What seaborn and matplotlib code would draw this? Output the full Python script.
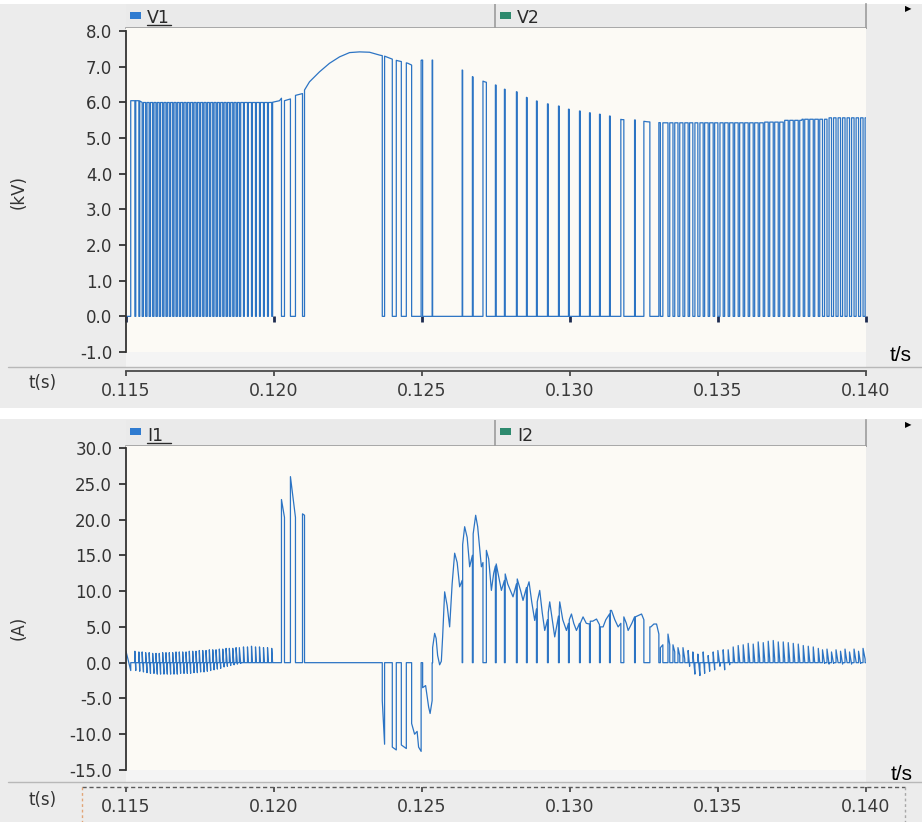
import numpy as np
import matplotlib
matplotlib.use("Agg")
import matplotlib.pyplot as plt
import seaborn as sns
from matplotlib.patches import Rectangle
from matplotlib.lines import Line2D
from matplotlib.ticker import FormatStrFormatter, MultipleLocator

sns.set_style("white")
plt.rcParams["font.family"] = ["DejaVu Sans"]
plt.rcParams["axes.unicode_minus"] = False

# ---------------------------------------------------------------------------
# Switching record, times in ms.
# Conduction intervals: V1 collapses to 0 while I1 flows.
on_mid = [
    115.08, 115.315, 115.45, 115.568, 115.687, 115.805, 115.923, 116.035, 116.146, 116.261,
    116.373, 116.485, 116.6, 116.711, 116.823, 116.938, 117.05, 117.161, 117.276, 117.388,
    117.499, 117.614, 117.726, 117.838, 117.953, 118.064, 118.176, 118.291, 118.403, 118.514,
    118.629, 118.741, 118.852, 118.984, 119.119, 119.255, 119.39, 119.525, 119.66, 119.796,
    119.938,
    120.303, 120.64, 120.997,
    123.697, 124.064, 124.386, 124.81,
    125.182, 125.858, 126.538, 126.894, 127.327, 127.646, 128.0, 128.373, 128.711, 129.066,
    129.438, 129.793, 130.148, 130.503, 130.841, 131.179, 131.54, 132.0, 132.352, 132.85,
    133.095,
    133.34, 133.509, 133.678, 133.847, 134.016, 134.185, 134.354, 134.524, 134.693, 134.862,
    135.031, 135.2, 135.369, 135.538, 135.707, 135.876, 136.045, 136.214, 136.383, 136.553,
    136.722, 136.891, 137.06, 137.229, 137.398, 137.567, 137.736, 137.905, 138.074, 138.243,
    138.413, 138.565, 138.717, 138.869, 139.022, 139.174, 139.326, 139.478, 139.631, 139.783,
    139.935,
]
on_w = [
    0.16, 0.03, 0.03, 0.045, 0.045, 0.045, 0.045, 0.045, 0.045, 0.045,
    0.045, 0.045, 0.045, 0.045, 0.045, 0.045, 0.045, 0.045, 0.045, 0.045,
    0.045, 0.045, 0.045, 0.045, 0.045, 0.045, 0.045, 0.045, 0.045, 0.045,
    0.045, 0.045, 0.045, 0.03, 0.03, 0.03, 0.03, 0.03, 0.03, 0.03,
    0.03,
    0.102, 0.17, 0.068,
    0.078, 0.135, 0.169, 0.321,
    0.321, 0.998, 0.329, 0.331, 0.305, 0.277, 0.379, 0.311, 0.311, 0.345,
    0.345, 0.311, 0.345, 0.311, 0.311, 0.312, 0.355, 0.362, 0.287, 0.304,
    0.084,
    0.06, 0.06, 0.06, 0.06, 0.05, 0.07, 0.07, 0.05, 0.05, 0.05,
    0.07, 0.05, 0.05, 0.05, 0.05, 0.05, 0.05, 0.05, 0.05, 0.05,
    0.05, 0.05, 0.05, 0.05, 0.05, 0.05, 0.05, 0.05, 0.05, 0.05,
    0.05, 0.07, 0.07, 0.07, 0.07, 0.07, 0.07, 0.07, 0.07, 0.07,
    0.07,
]
# I1 (A) at the start and at the end of each conduction interval
i_first = [
    1.6, 1.6, 1.5, 1.5, 1.4, 1.4, 1.3, 1.3, 1.3, 1.4,
    1.4, 1.4, 1.4, 1.5, 1.5, 1.5, 1.5, 1.6, 1.6, 1.6,
    1.7, 1.7, 1.7, 1.8, 1.8, 1.8, 1.9, 1.9, 2.0, 2.0,
    2.0, 2.1, 2.1, 2.2, 2.2, 2.3, 2.2, 2.2, 2.1, 2.1,
    2.0,
    22.8, 26.0, 20.8,
    -5.3, -11.8, -11.5, -8.5,
    -3.5, 2.1, 16.5, 18.0, 15.7, 13.8, 12.4, 11.7, 10.5, 8.5,
    7.0, 7.5, 6.0, 5.5, 5.8, 5.0, 7.3, 6.4, 6.4, 5.0,
    2.1,
    4.0, 2.5, 2.1, 2.1, 1.7, 1.5, 1.2, 1.5, 1.0, 1.5,
    1.7, 1.8, 1.8, 2.2, 2.4, 2.5, 2.7, 2.6, 2.9, 2.8,
    3.0, 3.1, 2.9, 2.9, 2.8, 2.7, 2.6, 2.4, 2.3, 2.2,
    2.0, 1.8, 1.9, 1.5, 1.8, 1.6, 1.9, 1.5, 1.9, 1.6,
    2.0,
]
i_last = [
    -1.1, -1.1, -1.2, -1.3, -1.4, -1.5, -1.5, -1.6, -1.6, -1.6,
    -1.6, -1.6, -1.6, -1.6, -1.5, -1.5, -1.5, -1.5, -1.4, -1.4,
    -1.3, -1.3, -1.2, -1.1, -1.0, -0.9, -0.8, -0.6, -0.5, -0.4,
    -0.3, -0.2, -0.1, 0.0, 0.0, 0.0, 0.0, 0.0, 0.0, 0.0,
    0.0,
    20.3, 20.3, 20.6,
    -11.4, -12.2, -12.0, -12.4,
    -5.3, 11.5, 15.0, 14.0, 13.5, 11.5, 11.0, 10.5, 7.5, 6.0,
    6.5, 5.5, 5.5, 5.4, 5.3, 6.8, 5.5, 6.4, 6.0, 4.0,
    2.5,
    2.5, 1.5, 1.0, 0.5, -0.5, -1.6, -1.8, -1.5, -1.2, -1.0,
    -0.5, -1.0, -0.3, 0.0, 0.2, 0.3, 0.3, 0.3, 0.5, 0.4,
    0.5, 0.5, 0.4, 0.4, 0.4, 0.3, 0.3, 0.2, 0.2, 0.1,
    0.0, -0.1, -0.2, -0.1, 0.0, -0.2, 0.0, -0.2, 0.1, -0.1,
    0.5,
]
# I1 ripple inside the long conduction intervals (ms, A)
i_env_t = [
    124.75, 124.835, 124.885,
    125.122, 125.224, 125.274,
    125.427, 125.477, 125.528, 125.596, 125.653, 125.697, 125.765, 125.849, 125.934,
    126.018, 126.103, 126.188, 126.272,
    126.441, 126.526, 126.61,
    126.813, 126.881, 127.006,
    127.253, 127.344, 127.422,
    127.591, 127.682,
    127.896, 128.075,
    128.335, 128.413,
    128.616, 128.707, 128.808,
    128.977, 129.062, 129.146,
    129.315, 129.417, 129.484,
    129.653, 129.755, 129.88,
    130.049, 130.127, 130.218,
    130.441, 130.55,
    130.77, 130.895,
    131.118, 131.21,
    131.402, 131.514, 131.626,
    131.903, 131.964, 132.089,
    132.417,
    132.732, 132.833, 132.924,
]
i_env_v = [
    -10.0, -9.6, -11.8,
    -3.2, -6.2, -7.1,
    4.1, 3.4, 1.0, -0.3, 0.2, 3.6, 9.9, 8.0, 5.0,
    11.0, 15.3, 14.0, 10.6,
    19.0, 17.5, 13.4,
    20.6, 19.0, 13.4,
    14.5, 10.1, 12.5,
    12.0, 10.1,
    11.0, 9.2,
    10.0, 8.7,
    11.3, 8.5, 5.9,
    10.1, 7.0, 4.5,
    8.5, 5.5, 3.6,
    8.5, 6.0, 4.5,
    6.8, 5.5, 4.5,
    6.4, 5.5,
    5.8, 6.1,
    5.0, 6.0,
    7.3, 6.0, 5.0,
    5.5, 4.5, 5.5,
    6.8,
    5.0, 5.4, 5.4,
]
# V1 level while the switch is open (ms, kV)
v_env_t = [
    115.0, 115.45, 115.551, 119.914, 120.185, 120.252, 120.354, 120.557, 120.726, 120.963,
    121.031, 121.199, 121.537, 121.875, 122.214, 122.552, 122.89, 123.228, 123.567, 123.736,
    124.016, 124.185, 124.354, 124.523, 124.649, 124.987, 125.359, 126.364, 126.712, 127.118,
    127.49, 127.794, 128.2, 128.538, 128.876, 129.248, 129.62, 129.958, 130.33, 130.668,
    131.006, 131.344, 131.75, 132.19, 132.596, 133.103, 136.53, 136.55, 137.206, 137.22,
    137.828, 137.84, 138.728, 138.74, 140.0,
]
v_env_v = [
    6.05, 6.05, 6.0, 6.0, 6.05, 6.12, 6.05, 6.1, 6.2, 6.25,
    6.35, 6.58, 6.86, 7.1, 7.28, 7.4, 7.42, 7.41, 7.33, 7.3,
    7.21, 7.17, 7.14, 7.1, 7.05, 7.19, 7.19, 6.91, 6.72, 6.58,
    6.49, 6.37, 6.3, 6.14, 6.04, 5.96, 5.9, 5.81, 5.76, 5.71,
    5.67, 5.62, 5.52, 5.51, 5.46, 5.43, 5.43, 5.45, 5.45, 5.5,
    5.5, 5.53, 5.53, 5.57, 5.57,
]
t_ticks = [0.115, 0.120, 0.125, 0.130, 0.135, 0.140]
top_legend = ["V1", "V2"]
bottom_legend = ["I1", "I2"]
T_START, T_END = 115.0, 140.0

# ---------------------------------------------------------------------------
# Build the stepped traces from the switching record
mid = np.array(on_mid)
w = np.array(on_w)
t0 = np.maximum(mid - w / 2, T_START)
t1 = mid + w / 2
env_t, env_v = np.array(v_env_t), np.array(v_env_v)
ie_t, ie_v = np.array(i_env_t), np.array(i_env_v)

vt, vv = [], []
it, iv = [T_START], [0.0]
n = len(mid)
for k in range(n):
    a, b = t0[k], t1[k]
    vt += [a, b]
    vv += [0.0, 0.0]
    m = (ie_t > a) & (ie_t < b)
    it += [a, a, *ie_t[m], b, b]
    iv += [0.0, i_first[k], *ie_v[m], i_last[k], 0.0]
    c = t0[k + 1] if k + 1 < n else T_END
    m = (env_t > b) & (env_t < c)
    vt += [b, *env_t[m], c]
    vv += [np.interp(b, env_t, env_v), *env_v[m], np.interp(c, env_t, env_v)]
    if k + 1 < n:
        vt.append(c)
        vv.append(0.0)
it.append(T_END)
iv.append(0.0)

# ---------------------------------------------------------------------------
W, H = 922, 822
fig = plt.figure(figsize=(W / 100, H / 100), dpi=100, facecolor="white")


def fx(px):
    return px / W


def fy(py):
    return 1 - py / H


GRAY = "#ececec"
CREAM = "#fcfaf5"
BAND = "#f4f4f4"
BLUE = "#2c74c4"
INK = "#333333"
EDGE = "#9c9c9c"


def frect(x0, y0, x1, y1, color, z=-20):
    fig.add_artist(Rectangle((fx(x0), fy(y1)), (x1 - x0) / W, (y1 - y0) / H,
                             transform=fig.transFigure, facecolor=color,
                             edgecolor="none", zorder=z))


def fline(xs, ys, **kw):
    fig.add_artist(Line2D([fx(x) for x in xs], [fy(y) for y in ys],
                          transform=fig.transFigure, **kw))


# panel backdrops
frect(0, 4, W, 408, GRAY)
frect(0, 419, W, H, GRAY)
frect(126, 352, 866, 367, BAND, z=-19)
frect(126, 770, 866, 782, BAND, z=-19)
fline([8, W], [367, 367], color="#b8b8b8", lw=1.0)
fline([8, W], [782, 782], color="#b8b8b8", lw=1.0)


def header(y0, y1, names):
    ax = fig.add_axes([fx(126), fy(y1), 740 / W, (y1 - y0) / H])
    ax.set_facecolor("#eaeaea")
    ax.set_xlim(0, 1)
    ax.set_ylim(0, 1)
    ax.set_xticks([])
    ax.set_yticks([])
    for s in ["left", "top"]:
        ax.spines[s].set_visible(False)
    for s in ["bottom", "right"]:
        ax.spines[s].set_visible(True)
        ax.spines[s].set_color(EDGE)
        ax.spines[s].set_linewidth(1.2)
    ax.axvline((494.5 - 126) / 740, color=EDGE, lw=1.2)
    hpx = y1 - y0
    colors = ["#2f7bd0", "#2e8a6e"]
    for j, (name, col) in enumerate(zip(names, colors)):
        x0 = 4 if j == 0 else 374
        # small colour swatch, about 11 x 7 px, upper half of the bar
        ax.add_patch(Rectangle((x0 / 740, (hpx - 15) / hpx), 11 / 740, 7 / hpx,
                               facecolor=col, edgecolor="none",
                               transform=ax.transAxes))
        ax.text((x0 + 17) / 740, 5 / hpx, name, fontsize=12.5, color="#2a2a2a",
                va="baseline", ha="left", transform=ax.transAxes)
        if j == 0:
            ax.add_line(Line2D([(x0 + 17) / 740, (x0 + 41) / 740], [2.5 / hpx] * 2,
                               color="#2a2a2a", lw=1.0, transform=ax.transAxes))
    return ax


def main_axes(y0, y1, ylim, step, bounds):
    ax = fig.add_axes([fx(126), fy(y1), 740 / W, (y1 - y0) / H])
    ax.set_facecolor(CREAM)
    ax.set_xlim(0.115, 0.140)
    ax.set_ylim(*ylim)
    for s in ["top", "right", "bottom"]:
        ax.spines[s].set_visible(False)
    ax.spines["left"].set_visible(True)
    ax.spines["left"].set_color(INK)
    ax.spines["left"].set_linewidth(1.3)
    ax.spines["left"].set_bounds(*bounds)
    ax.yaxis.set_major_locator(MultipleLocator(step))
    ax.yaxis.set_major_formatter(FormatStrFormatter("%.1f"))
    ax.tick_params(axis="y", left=True, direction="out", length=5, width=1.3,
                   color=INK, labelsize=12, labelcolor=INK, pad=5)
    ax.set_xticks([])
    return ax


def strip_axes(y_line, pad, show_spine=True):
    ax = fig.add_axes([fx(126), fy(y_line), 740 / W, 1 / H])
    ax.patch.set_visible(False)
    ax.set_xlim(0.115, 0.140)
    ax.set_ylim(0, 1)
    for s in ["top", "right", "left"]:
        ax.spines[s].set_visible(False)
    ax.spines["bottom"].set_visible(show_spine)
    ax.spines["bottom"].set_color("#4a4a4a")
    ax.spines["bottom"].set_linewidth(1.3)
    ax.set_yticks([])
    ax.set_xticks(t_ticks)
    ax.xaxis.set_major_formatter(FormatStrFormatter("%.3f"))
    ax.tick_params(axis="x", bottom=True, direction="out", length=3.8, width=1.3,
                   color="#4a4a4a", labelsize=12.5, labelcolor="#3a3a3a", pad=pad)
    return ax


# ---- voltage panel ----
header(4, 28, top_legend)
ax_v = main_axes(28, 352, (-1.0, 8.09), 1.0, (-1.0, 8.0))
# switching-period marks sitting on the zero line
ax_v.spines["bottom"].set_position(("data", 0))
ax_v.spines["bottom"].set_visible(False)
ax_v.set_xticks(t_ticks)
ax_v.tick_params(axis="x", bottom=True, direction="out", length=4.5, width=2.0,
                 color="#1d2b4f", labelbottom=False)
sns.lineplot(x=np.asarray(vt) / 1000, y=np.asarray(vv), ax=ax_v, sort=False,
             estimator=None, color=BLUE, linewidth=0.9)
ax_v.set_xlabel("")
ax_v.set_ylabel("")
strip_axes(371, 4.0)

# ---- current panel ----
header(420, 446, bottom_legend)
ax_i = main_axes(446, 770, (-15.0, 30.28), 5.0, (-15.0, 30.0))
sns.lineplot(x=np.asarray(it) / 1000, y=np.asarray(iv), ax=ax_i, sort=False,
             estimator=None, color=BLUE, linewidth=0.9)
ax_i.set_xlabel("")
ax_i.set_ylabel("")
strip_axes(787, 4.0, show_spine=False)
fline([82, 905], [787, 787], color="#5a5a5a", lw=1.0, linestyle=(0, (3, 2)))
fline([82, 82], [787, 822], color="#e2a577", lw=1.0, linestyle=(0, (2, 2)))
fline([905, 905], [787, 822], color="#a8a8a8", lw=1.0, linestyle=(0, (2, 2)))

# ---- labels ----
fig.text(fx(19), fy(192), "(kV)", rotation=90, ha="center", va="center",
         fontsize=12, color=INK)
fig.text(fx(19), fy(628), "(A)", rotation=90, ha="center", va="center",
         fontsize=12, color=INK)
fig.text(fx(43), fy(383), "t(s)", ha="center", va="center", fontsize=12, color=INK)
fig.text(fx(43), fy(800), "t(s)", ha="center", va="center", fontsize=12, color=INK)
fig.text(fx(901), fy(355), "t/s", ha="center", va="center", fontsize=15,
         color="black", family=["Liberation Sans", "DejaVu Sans"])
fig.text(fx(902), fy(774), "t/s", ha="center", va="center", fontsize=15,
         color="black", family=["Liberation Sans", "DejaVu Sans"])
fig.text(fx(908), fy(9), "\u25B6", ha="center", va="center", fontsize=6, color="black")
fig.text(fx(908), fy(425), "\u25B6", ha="center", va="center", fontsize=6, color="black")

fig.savefig("out.png", dpi=100, facecolor="white")
